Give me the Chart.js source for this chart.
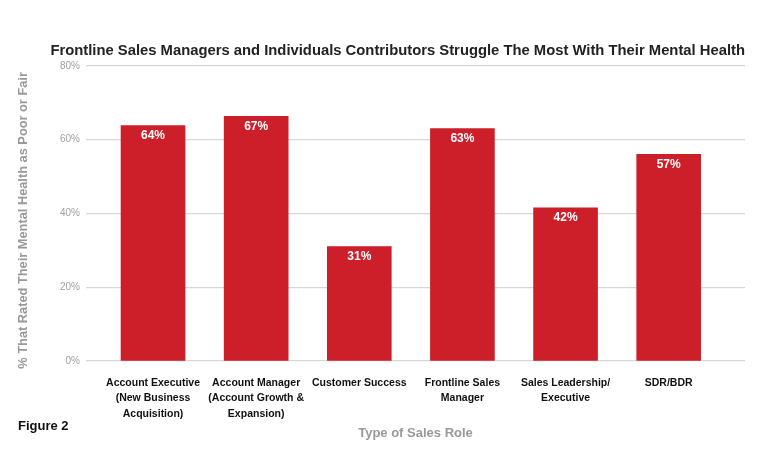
<!DOCTYPE html>
<html>
<head>
<meta charset="utf-8">
<script src="https://cdn.jsdelivr.net/npm/chart.js@4"></script>
<style>
  html, body { margin: 0; padding: 0; background: #fff; }
  #wrap { position: relative; width: 777px; height: 457px; }
  #fig { position: absolute; left: 18px; top: 418px; font: bold 13px "Liberation Sans", Arial, sans-serif; color: #111; }
</style>
</head>
<body>
<div id="wrap">
  <canvas id="salesChart" width="777" height="457"></canvas>
  <div id="fig">Figure 2</div>
</div>
<script>
// roles, one entry per bar (lines as shown under each bar)
var roles = [
  ['Account Executive', '(New Business', 'Acquisition)'],
  ['Account Manager', '(Account Growth &', 'Expansion)'],
  ['Customer Success'],
  ['Frontline Sales', 'Manager'],
  ['Sales Leadership/', 'Executive'],
  ['SDR/BDR']
];
var poorOrFair = [63.8, 66.3, 31, 63, 41.5, 56];
var valueLabels = ['64%', '67%', '31%', '63%', '42%', '57%'];
var yTicks = [0, 20, 40, 60, 80];
var yTitle = '% That Rated Their Mental Health as Poor or Fair';

var sans = '"Liberation Sans", Arial, sans-serif';

var barLabels = {
  id: 'barLabels',
  afterDatasetsDraw: function(chart) {
    var ctx = chart.ctx;
    var meta = chart.getDatasetMeta(0);
    ctx.save();
    ctx.fillStyle = '#fff';
    ctx.font = 'bold 12px ' + sans;
    ctx.textAlign = 'center';
    ctx.textBaseline = 'middle';
    meta.data.forEach(function(bar, i) {
      ctx.fillText(valueLabels[i], bar.x, bar.y + 10);
    });
    ctx.restore();
  }
};

// y axis title, drawn a little below the middle of the plot like the original
var yAxisTitle = {
  id: 'yAxisTitle',
  afterDraw: function(chart) {
    var ctx = chart.ctx, a = chart.chartArea;
    ctx.save();
    ctx.translate(23, (a.top + a.bottom) / 2 + 7);
    ctx.rotate(-Math.PI / 2);
    ctx.fillStyle = '#999';
    ctx.font = 'bold 12.8px ' + sans;
    ctx.textAlign = 'center';
    ctx.textBaseline = 'middle';
    ctx.fillText(yTitle, 0, 0);
    ctx.restore();
  }
};

new Chart(document.getElementById('salesChart').getContext('2d'), {
  type: 'bar',
  data: {
    datasets: [{
      data: poorOrFair.map(function(v, i) { return { x: i, y: v }; }),
      backgroundColor: '#cc1f2a',
      barThickness: 64
    }]
  },
  plugins: [barLabels, yAxisTitle],
  options: {
    responsive: false,
    animation: false,
    layout: { padding: { left: 16, right: 32, top: 0, bottom: 0 } },
    plugins: {
      legend: { display: false },
      tooltip: { enabled: false },
      title: {
        display: true,
        align: 'end',
        text: 'Frontline Sales Managers and Individuals Contributors Struggle The Most With Their Mental Health',
        color: '#222',
        font: { family: sans, size: 14.8, weight: 'bold' },
        padding: { top: 42, bottom: 6 }
      }
    },
    scales: {
      x: {
        type: 'linear',
        offset: false,
        min: -0.65,
        max: 5.74,
        afterFit: function(scale) { scale.height = 96; },
        grid: { display: false },
        border: { display: false },
        ticks: {
          stepSize: 1,
          includeBounds: false,
          autoSkip: false,
          maxRotation: 0,
          padding: 6,
          color: '#111',
          font: { family: sans, size: 10.5, weight: 'bold', lineHeight: 1.48 },
          callback: function(v) { return roles[v] || ''; }
        },
        title: {
          display: true,
          text: 'Type of Sales Role',
          color: '#999',
          font: { family: sans, size: 13, weight: 'bold' },
          padding: { top: 0, bottom: 16 }
        }
      },
      y: {
        min: 0,
        max: 80,
        afterFit: function(scale) { scale.width = 70; },
        afterBuildTicks: function(scale) { scale.ticks = yTicks.map(function(v) { return { value: v }; }); },
        grid: { color: '#d6d6d6', lineWidth: 1.2, drawTicks: false },
        border: { display: false },
        ticks: {
          padding: 6,
          color: '#a0a0a0',
          font: { family: sans, size: 10 },
          callback: function(v) { return v + '%'; }
        },
        title: { display: false }
      }
    }
  }
});
</script>
</body>
</html>
